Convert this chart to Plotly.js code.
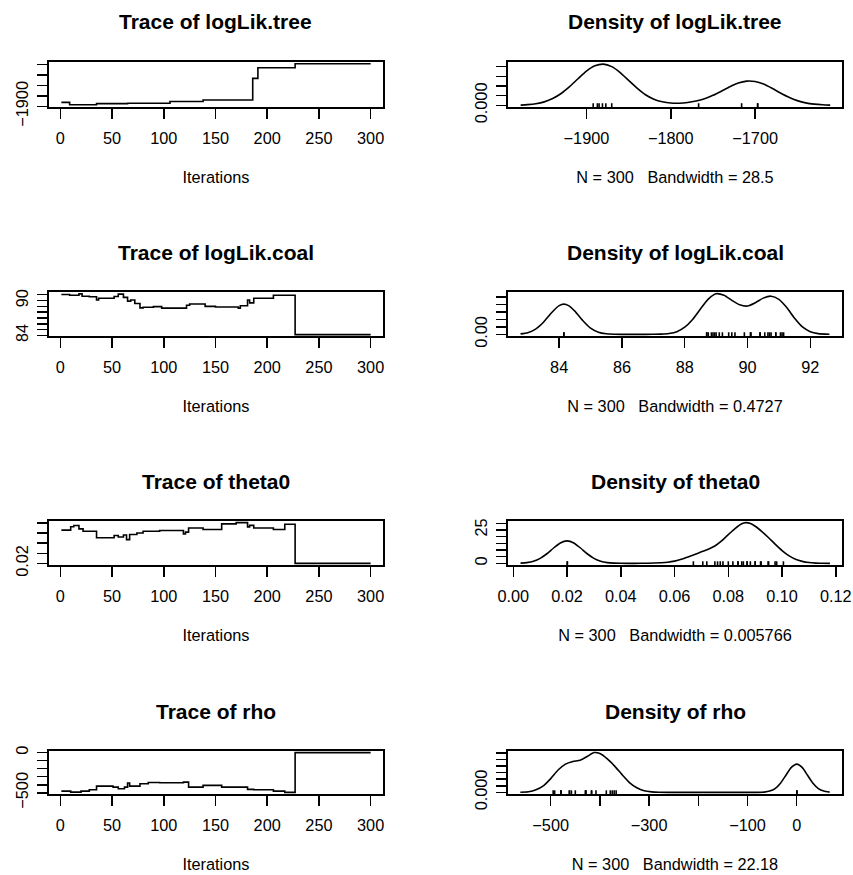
<!DOCTYPE html>
<html><head><meta charset="utf-8">
<script src="https://cdn.plot.ly/plotly-3.0.1.min.js"></script>
<style>html,body{margin:0;padding:0;background:#fff}</style>
</head><body><div id="chart" style="width:853px;height:875px"></div>
<script>
// ---------------- DATA ----------------
const varNames = ['logLik.tree', 'logLik.coal', 'theta0', 'rho'];
const nObs = 300;
const bandwidths = ['28.5', '0.4727', '0.005766', '22.18'];

// Trace change points (iteration where a new value starts) and values
const treeIter = [1, 9, 35, 65, 106, 138, 186, 191, 227, 300];
const treeVal  = [-1881, -1892, -1887, -1885, -1877, -1870, -1767, -1716, -1697, -1697];

const coalIter = [1, 9, 18, 21, 28, 35, 37, 52, 56, 61, 65, 68, 72, 77, 80, 90, 98, 122, 125, 140, 150, 172, 174, 181, 183, 187, 206, 227, 300];
const coalVal  = [91.05, 90.9, 91.15, 90.75, 90.65, 90.1, 90.4, 90.7, 91.1, 90.55, 89.9, 90.1, 89.5, 88.75, 88.85, 88.95, 88.7, 89.2, 89.4, 89.0, 88.9, 88.7, 89.1, 90.1, 89.6, 90.4, 90.9, 84.15, 84.15];

const thetaIter = [1, 10, 13, 18, 22, 35, 52, 56, 61, 64, 67, 74, 80, 96, 119, 121, 124, 138, 156, 170, 181, 183, 187, 206, 217, 227, 300];
const thetaVal  = [0.0856, 0.0922, 0.0948, 0.0882, 0.0836, 0.0705, 0.075, 0.072, 0.076, 0.067, 0.077, 0.080, 0.0836, 0.085, 0.078, 0.0817, 0.090, 0.087, 0.098, 0.1005, 0.092, 0.095, 0.090, 0.087, 0.0974, 0.0201, 0.0201];

const rhoIter = [1, 10, 20, 28, 35, 51, 56, 62, 65, 67, 77, 85, 96, 119, 124, 138, 156, 181, 187, 206, 217, 227, 300];
const rhoVal  = [-479, -492, -479, -462, -417, -429, -450, -429, -379, -417, -387, -371, -375, -367, -429, -408, -429, -458, -462, -479, -495, 0.4, 0.4];

// Density curves
const treeDensX = [-1978,-1970,-1960,-1950,-1940,-1930,-1920,-1910,-1900,-1890,-1880,-1870,-1860,-1850,-1840,-1830,-1820,-1810,-1800,-1790,-1780,-1770,-1760,-1750,-1740,-1730,-1720,-1710,-1700,-1690,-1680,-1670,-1660,-1650,-1640,-1630,-1620,-1611];
const treeDensY = [0.00004,0.00014,0.00033,0.00071,0.0014,0.00244,0.00385,0.00549,0.00705,0.00815,0.0085,0.00798,0.00676,0.00516,0.00355,0.00219,0.00127,0.00073,0.00047,0.00044,0.00058,0.00089,0.00137,0.00206,0.00292,0.00382,0.00459,0.00499,0.0049,0.00438,0.00352,0.00255,0.00167,0.00097,0.00051,0.00025,0.00011,0.00004];

const coalDensX = [82.77,83.0,83.25,83.5,83.75,84.0,84.15,84.3,84.5,84.75,85.0,85.25,85.5,85.75,86.0,86.5,87.0,87.25,87.5,87.75,88.0,88.25,88.5,88.75,89.0,89.25,89.5,89.75,90.0,90.25,90.5,90.75,91.0,91.25,91.5,91.75,92.0,92.25,92.61];
const coalDensY = [0.0033,0.0115,0.035,0.081,0.1435,0.193,0.203,0.193,0.156,0.093,0.042,0.0147,0.0039,0.0008,0.0001,0.0,0.0005,0.002,0.006,0.018,0.048,0.10,0.17,0.236,0.272,0.262,0.228,0.198,0.19,0.212,0.243,0.256,0.235,0.18,0.108,0.05,0.018,0.005,0.0004];

const thetaDensX = [0.0027,0.005,0.0075,0.010,0.0125,0.015,0.0175,0.020,0.0225,0.025,0.0275,0.030,0.0325,0.035,0.0375,0.040,0.045,0.050,0.055,0.0575,0.060,0.0625,0.065,0.0675,0.070,0.0725,0.075,0.0775,0.080,0.0825,0.085,0.0865,0.088,0.090,0.0925,0.095,0.0975,0.100,0.1025,0.105,0.1075,0.110,0.1125,0.115,0.1178];
const thetaDensY = [0.19,0.57,1.6,3.75,7.2,11.5,15.3,16.8,15.3,11.5,7.2,3.75,1.6,0.57,0.19,0.04,0.02,0.1,0.5,0.9,1.7,3.0,4.8,6.7,8.6,10.6,13.0,16.8,21.5,26.0,29.6,30.5,30.0,27.8,23.8,19.2,14.2,9.6,5.8,3.1,1.5,0.6,0.2,0.06,0.01];

const rhoDensX = [-561.7,-545,-530,-515,-500,-485,-470,-455,-440,-425,-412,-400,-385,-370,-355,-340,-325,-310,-295,-280,-260,-200,-150,-100,-80,-66,-55,-44,-33,-22,-11,0.4,11,22,33,44,55,66.9];
const rhoDensY = [0.00003,0.0001,0.0004,0.001,0.0021,0.0034,0.0043,0.0047,0.0049,0.0055,0.00605,0.0059,0.0051,0.004,0.0027,0.0015,0.0007,0.00025,0.00008,0.00002,0,0,0,0,0.00001,0.00005,0.0002,0.00058,0.0014,0.0026,0.0038,0.0043,0.0038,0.0026,0.0014,0.00058,0.0002,0.00004];

// Tick values / labels
const iterTicks = [0, 50, 100, 150, 200, 250, 300];
const iterTickText = ['0', '50', '100', '150', '200', '250', '300'];

const treeYTicks = [-1900, -1850, -1800, -1750, -1700];
const treeYText  = ['\u22121900', '', '', '', ''];
const coalYTicks = [84, 85, 86, 87, 88, 89, 90, 91];
const coalYText  = ['84', '', '', '', '', '', '90', ''];
const thetaYTicks = [0.02, 0.04, 0.06, 0.08, 0.10];
const thetaYText  = ['0.02', '', '', '', ''];
const rhoYTicks = [-500, -400, -300, -200, -100, 0];
const rhoYText  = ['\u2212500', '', '', '', '', '0'];

const treeDXTicks = [-1900, -1800, -1700];
const treeDXText  = ['\u22121900', '\u22121800', '\u22121700'];
const treeDYTicks = [0, 0.002, 0.004, 0.006, 0.008];
const treeDYText  = ['0.000', '', '', '', ''];
const coalDXTicks = [84, 86, 88, 90, 92];
const coalDXText  = ['84', '86', '88', '90', '92'];
const coalDYTicks = [0, 0.05, 0.10, 0.15, 0.20, 0.25];
const coalDYText  = ['0.00', '', '', '', '', ''];
const thetaDXTicks = [0, 0.02, 0.04, 0.06, 0.08, 0.10, 0.12];
const thetaDXText  = ['0.00', '0.02', '0.04', '0.06', '0.08', '0.10', '0.12'];
const thetaDYTicks = [0, 5, 10, 15, 20, 25, 30];
const thetaDYText  = ['0', '', '', '', '', '25', ''];
const rhoDXTicks = [-500, -400, -300, -200, -100, 0];
const rhoDXText  = ['\u2212500', '', '\u2212300', '', '\u2212100', '0'];
const rhoDYTicks = [0, 0.001, 0.002, 0.003, 0.004, 0.005, 0.006];
const rhoDYText  = ['0.000', '', '', '', '', '', ''];

// ---------------- LAYOUT ----------------
const W = 853, H = 875;
const FONT = 'Liberation Sans, Arial, Helvetica, sans-serif';
const colX = [[49, 383], [508, 842]];
const rowY = [[62, 107], [292, 336], [521, 565], [751, 794]];

const panels = [
  {iter: treeIter, val: treeVal, dx: treeDensX, dy: treeDensY,
   yr: [-1903, -1689], yt: treeYTicks, ytt: treeYText,
   dxr: [-1993, -1597], dxt: treeDXTicks, dxtt: treeDXText,
   dyr: [-0.000344, 0.00894], dyt: treeDYTicks, dytt: treeDYText},
  {iter: coalIter, val: coalVal, dx: coalDensX, dy: coalDensY,
   yr: [83.91, 91.47], yt: coalYTicks, ytt: coalYText,
   dxr: [82.37, 93.01], dxt: coalDXTicks, dxtt: coalDXText,
   dyr: [-0.0109, 0.284], dyt: coalDYTicks, dytt: coalDYText},
  {iter: thetaIter, val: thetaVal, dx: thetaDensX, dy: thetaDensY,
   yr: [0.0168, 0.1037], yt: thetaYTicks, ytt: thetaYText,
   dxr: [-0.00197, 0.1223], dxt: thetaDXTicks, dxtt: thetaDXText,
   dyr: [-1.22, 31.7], dyt: thetaDYTicks, dytt: thetaDYText},
  {iter: rhoIter, val: rhoVal, dx: rhoDensX, dy: rhoDensY,
   yr: [-515, 20.2], yt: rhoYTicks, ytt: rhoYText,
   dxr: [-586.8, 92], dxt: rhoDXTicks, dxtt: rhoDXText,
   dyr: [-0.000242, 0.00629], dyt: rhoDYTicks, dytt: rhoDYText}
];

const xdom = (c) => [colX[c][0] / W, colX[c][1] / W];
const ydom = (r) => [1 - rowY[r][1] / H, 1 - rowY[r][0] / H];

function axisBase() {
  return {
    showline: true, mirror: true, linecolor: '#000', linewidth: 1.6,
    ticks: 'outside', ticklen: 10, tickwidth: 1.5, tickcolor: '#000',
    showgrid: false, zeroline: false, tickmode: 'array',
    tickfont: {family: FONT, size: 16.3, color: '#000'},
    fixedrange: true
  };
}

const data = [];
const layout = {
  width: W, height: H, margin: {l: 0, r: 0, t: 0, b: 0},
  paper_bgcolor: '#fff', plot_bgcolor: '#fff', showlegend: false,
  annotations: []
};

panels.forEach((p, r) => {
  const ti = 2 * r + 1, di = 2 * r + 2;
  // Trace panel
  data.push({x: p.iter, y: p.val, type: 'scatter', mode: 'lines',
    line: {color: '#000', width: 1.6, shape: 'hv'},
    xaxis: 'x' + ti, yaxis: 'y' + ti, hoverinfo: 'skip'});
  // Density panel
  data.push({x: p.dx, y: p.dy, type: 'scatter', mode: 'lines',
    line: {color: '#000', width: 1.6, shape: 'spline', smoothing: 0.6},
    xaxis: 'x' + di, yaxis: 'y' + di, hoverinfo: 'skip'});
  // Rug of observed values
  data.push({x: p.val, y: p.val.map(() => 0), type: 'scatter', mode: 'markers',
    marker: {symbol: 'line-ns', size: 3, color: '#000', line: {color: '#000', width: 1.6}},
    xaxis: 'x' + di, yaxis: 'y' + di, hoverinfo: 'skip'});

  layout['xaxis' + ti] = Object.assign(axisBase(), {
    domain: xdom(0), anchor: 'y' + ti, range: [-10.96, 311.96],
    tickvals: iterTicks, ticktext: iterTickText, ticklabelstandoff: 6,
    title: {text: 'Iterations', font: {family: FONT, size: 16.3, color: '#000'}, standoff: 25}
  });
  layout['yaxis' + ti] = Object.assign(axisBase(), {
    domain: ydom(r), anchor: 'x' + ti, range: p.yr,
    tickvals: p.yt, ticktext: p.ytt, tickangle: -90, ticklabelstandoff: 3
  });
  layout['xaxis' + di] = Object.assign(axisBase(), {
    domain: xdom(1), anchor: 'y' + di, range: p.dxr,
    tickvals: p.dxt, ticktext: p.dxtt, ticklabelstandoff: 6,
    title: {text: 'N = ' + nObs + ' \u00a0 Bandwidth = ' + bandwidths[r],
            font: {family: FONT, size: 16.3, color: '#000'}, standoff: 25}
  });
  layout['yaxis' + di] = Object.assign(axisBase(), {
    domain: ydom(r), anchor: 'x' + di, range: p.dyr,
    tickvals: p.dyt, ticktext: p.dytt, tickangle: -90, ticklabelstandoff: 3
  });

  const titleY = 1 - (rowY[r][0] - 40) / H;
  layout.annotations.push({
    text: 'Trace of ' + varNames[r], xref: 'paper', yref: 'paper',
    x: (colX[0][0] + colX[0][1]) / 2 / W, y: titleY, xanchor: 'center', yanchor: 'middle',
    showarrow: false, font: {family: FONT, size: 21, color: '#000', weight: 'bold'}
  });
  layout.annotations.push({
    text: 'Density of ' + varNames[r], xref: 'paper', yref: 'paper',
    x: (colX[1][0] + colX[1][1]) / 2 / W, y: titleY, xanchor: 'center', yanchor: 'middle',
    showarrow: false, font: {family: FONT, size: 21, color: '#000', weight: 'bold'}
  });
});

Plotly.newPlot('chart', data, layout, {displayModeBar: false, staticPlot: true});
</script></body></html>
